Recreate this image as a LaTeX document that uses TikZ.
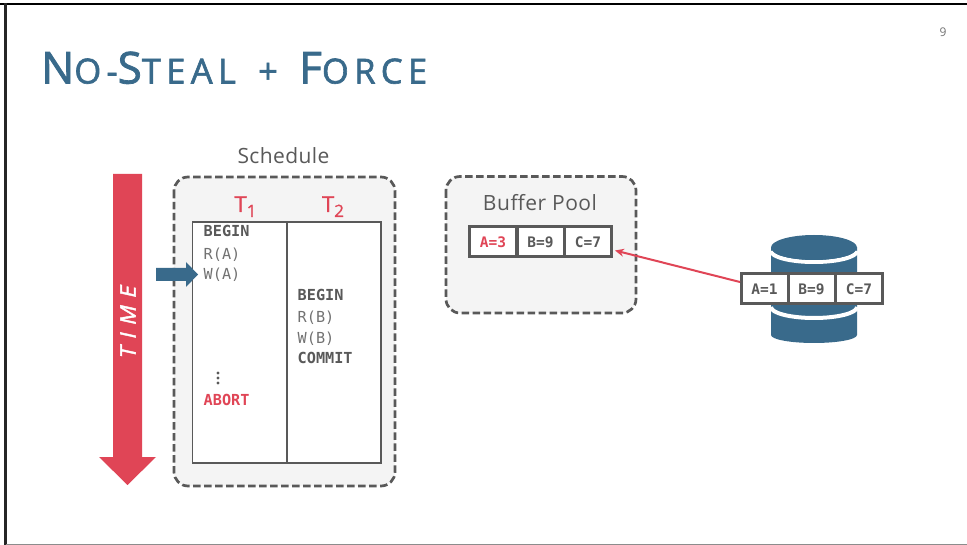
\documentclass[tikz,border=0pt]{standalone}
\usepackage{fontspec}
\setmainfont{Open Sans}
\setmonofont{DejaVu Sans Mono}
\newfontfamily\titlefont[LetterSpace=15.5,FakeBold=1.8]{Open Sans}
\newfontfamily\timefont[LetterSpace=36,FakeBold=2,FakeSlant=0.22]{Open Sans}
\newfontfamily\headfont[FakeBold=1.2]{Open Sans}
\usetikzlibrary{arrows.meta}
\definecolor{ink}{HTML}{595959}
\definecolor{navy}{HTML}{396A8B}
\definecolor{redd}{HTML}{E04556}
\definecolor{pale}{HTML}{F4F4F4}
\tikzset{
  dashbox/.style={draw=ink,fill=pale,line width=2.7pt,dash pattern=on 7.5pt off 3.5pt,rounded corners=14pt},
  cellbox/.style={draw=ink,fill=white,line width=3pt,minimum width=47pt,minimum height=30pt,inner sep=0pt,font=\ttfamily\bfseries\fontsize{14.5}{14.5}\selectfont,text=ink},
  opb/.style={anchor=base west,inner sep=0pt,text=ink,font=\ttfamily\bfseries\fontsize{15.2}{15.2}\selectfont},
  opn/.style={anchor=base west,inner sep=0pt,text=ink!85,font=\ttfamily\fontsize{15.2}{15.2}\selectfont},
  lbl/.style={inner sep=0pt,text=ink,anchor=base},
  thead/.style={inner sep=0pt,text=redd,anchor=base,font=\headfont\fontsize{22}{22}\selectfont}
}
\newcommand{\bigc}[1]{{\fontsize{44}{44}\selectfont #1}}
\newcommand{\smallc}[1]{{\fontsize{34.5}{36}\selectfont #1}}
\newcommand{\subd}[1]{\raisebox{-5pt}{\fontsize{17}{17}\selectfont #1}}
\begin{document}
\begin{tikzpicture}[x=1pt,y=-1pt]
\useasboundingbox (0,0) rectangle (967,545);
\fill[white] (0,0) rectangle (967,545);
% slide frame
\fill[black] (0,3) rectangle (967,5.5);
\fill[black!85] (4,3) rectangle (6.5,545);
\fill[black!45] (6,543.8) rectangle (967,545);
% title
\node[anchor=base west,inner sep=0pt,text=navy,font=\titlefont] (title) at (41,83.5)
  {\bigc{N}\smallc{O-}\bigc{S}\smallc{TEAL}\hspace{8pt}\smallc{\ +\ }\hspace{7pt}\bigc{F}\smallc{ORCE}};
\node[inner sep=0pt,text=black!55,font=\fontsize{12}{12}\selectfont] (pg) at (943,32) {9};
% time arrow
\fill[redd] (113,174) -- (142,174) -- (142,457) -- (156,457) -- (127.5,485) -- (99,457) -- (113,457) -- cycle;
\node[rotate=90,inner sep=0pt,text=white,font=\timefont\fontsize{21.5}{21.5}\selectfont] (time) at (128,323) {TIME};
% schedule
\node[lbl,font=\fontsize{21}{21}\selectfont] (sched) at (283.5,164) {\addfontfeature{LetterSpace=2}Schedule};
\draw[dashbox] (174,177) rectangle (395,486);
\draw[draw=ink,fill=white,line width=1.5pt] (192.5,222) rectangle (381,463);
\draw[draw=ink,line width=1.5pt] (287,222) -- (287,463);
\node[thead] (t1) at (245.5,212) {T\subd{1}};
\node[thead] (t2) at (333,212) {T\subd{2}};
\node[opb] (a) at (203.5,237) {BEGIN};
\node[opn] (b) at (203.5,259.5) {R(A)};
\node[opn] (c) at (203.5,280) {W(A)};
\node[inner sep=0pt] (dots) at (218,378) {\tikz[x=1pt,y=-1pt]{\fill[ink] (0,0) circle (1.7) (0,5) circle (1.7) (0,10) circle (1.7);}};
\node[opb,text=redd] (d) at (203.5,405.5) {ABORT};
\node[opb] (e) at (297.5,301) {BEGIN};
\node[opn] (f) at (297.5,323) {R(B)};
\node[opn] (g) at (297.5,343.5) {W(B)};
\node[opb] (h) at (297.5,364) {COMMIT};
% pointer
\fill[navy] (156,268) -- (186,268) -- (186,262) -- (198,274.5) -- (186,287) -- (186,281) -- (156,281) -- cycle;
% buffer pool
\draw[dashbox] (446,176.5) rectangle (636,313);
\node[lbl,font=\fontsize{21}{21}\selectfont] (bp) at (540,211) {\addfontfeature{LetterSpace=2.5}Buffer Pool};
\node[cellbox,text=redd] (b1) at (493,242) {A=3};
\node[cellbox] (b2) at (540.5,242) {B=9};
\node[cellbox] (b3) at (588,242) {C=7};
% disk
\fill[navy] (771,247.5) -- (771,335) arc[start angle=180,end angle=0,x radius=43,y radius=8] -- (857,247.5) -- cycle;
\draw[white,line width=4pt] (771,251) arc[start angle=180,end angle=0,x radius=43,y radius=11];
\fill[navy] (814,247.5) ellipse[x radius=43,y radius=12.5];
\draw[white,line width=4pt] (771,307) arc[start angle=180,end angle=0,x radius=43,y radius=11];
\node[cellbox] (d1) at (764.5,289) {A=1};
\node[cellbox] (d2) at (811.5,289) {B=9};
\node[cellbox] (d3) at (859,289) {C=7};
% arrow
\coordinate (from) at (740,282);
\coordinate (to) at (615,250.5);
\draw[redd,line width=2pt,-{Stealth[length=9pt,width=8pt]}] (from) -- (to);
\end{tikzpicture}
\end{document}
